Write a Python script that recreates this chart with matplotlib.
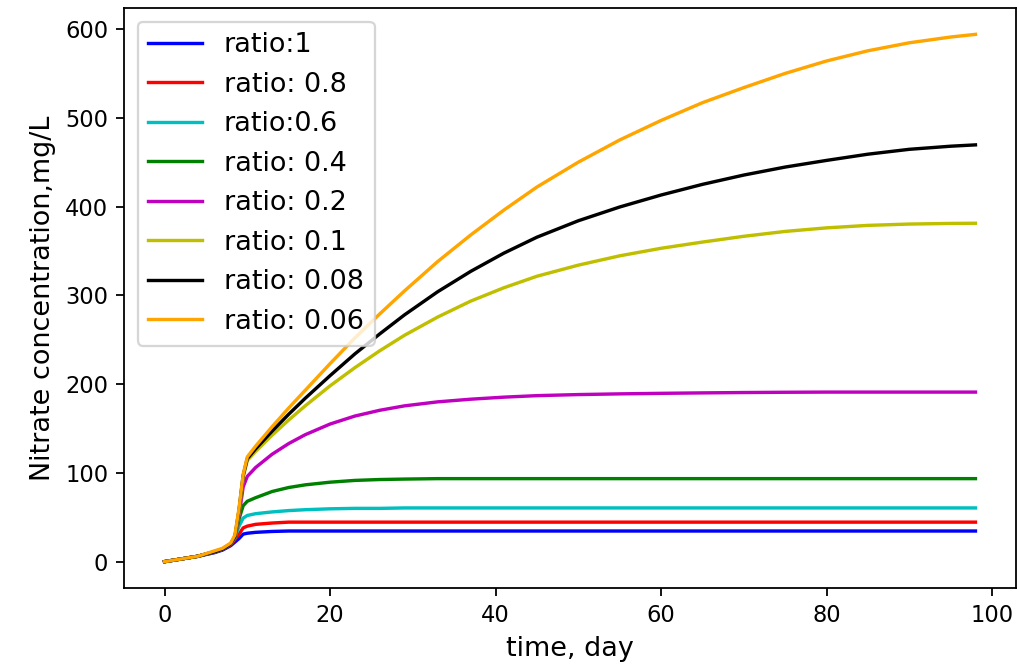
import numpy as np
import matplotlib
matplotlib.use('Agg')
import matplotlib.pyplot as plt

# sampling days
t = [0, 2, 4, 6, 7, 8, 8.5, 9, 9.5, 10, 11, 13, 15, 17, 20, 23, 26, 29, 33,
     37, 41, 45, 50, 55, 60, 65, 70, 75, 80, 85, 90, 95, 98]

# nitrate concentration (mg/L) for each ratio
n_1 = [0, 3, 6, 10, 13, 18, 22, 26, 31, 32, 33, 34, 34.5, 34.5, 34.5, 34.5,
       34.5, 34.5, 34.5, 34.5, 34.5, 34.5, 34.5, 34.5, 34.5, 34.5, 34.5, 34.5,
       34.5, 34.5, 34.5, 34.5, 34.5]
n_08 = [0, 3, 6, 11, 14, 19, 25, 31, 38, 40, 42, 43.5, 44.5, 44.5, 44.5, 44.5,
        44.5, 44.5, 44.5, 44.5, 44.5, 44.5, 44.5, 44.5, 44.5, 44.5, 44.5, 44.5,
        44.5, 44.5, 44.5, 44.5, 44.5]
n_06 = [0, 3, 6, 11, 14, 20, 27, 40, 49, 52, 54, 56, 57.5, 58.5, 59.5, 60,
        60, 60.5, 60.5, 60.5, 60.5, 60.5, 60.5, 60.5, 60.5, 60.5, 60.5, 60.5,
        60.5, 60.5, 60.5, 60.5, 60.5]
n_04 = [0, 3, 6, 11, 14, 20, 27, 48, 63, 68, 72, 79, 83.5, 86.5, 89.5, 91.5,
        92.5, 93, 93.5, 93.5, 93.5, 93.5, 93.5, 93.5, 93.5, 93.5, 93.5, 93.5,
        93.5, 93.5, 93.5, 93.5, 93.5]
n_02 = [0, 3, 6, 11, 14, 20, 27, 52, 84, 96, 106, 121, 133, 143, 155, 164,
        170.5, 175.5, 180, 183, 185.3, 187, 188.2, 189, 189.6, 190.1, 190.5,
        190.8, 191, 191, 191, 191, 191]
n_01 = [0, 3, 6, 11, 14, 20, 27, 55, 95, 114, 124, 142.5, 159.5, 175.5, 198,
        218.5, 237.5, 255, 275.5, 293.5, 308.5, 321.5, 334, 344.5, 353, 360,
        366.5, 372, 376, 378.8, 380.3, 381, 381.2]
n_008 = [0, 3, 6, 11, 14, 20, 28, 58, 97, 116, 127, 147, 166, 184, 209.5, 234,
         256.5, 278, 304, 327, 347.5, 365.5, 384, 399.5, 413, 425, 435.5, 444.5,
         452, 459, 464.5, 468, 469.5]
n_006 = [0, 3, 6, 12, 15, 21, 30, 60, 98, 118, 130, 152, 173, 193, 223, 252,
         279, 305, 338, 368, 396, 422, 450, 475, 497, 517, 534, 550, 564,
         575.5, 584.5, 591, 594]

series = [n_1, n_08, n_06, n_04, n_02, n_01, n_008, n_006]
labels = ['ratio:1', 'ratio: 0.8', 'ratio:0.6', 'ratio: 0.4', 'ratio: 0.2',
          'ratio: 0.1', 'ratio: 0.08', 'ratio: 0.06']
colors = ['b', 'r', 'c', 'g', 'm', 'y', 'k', 'orange']

dpi = 162
fig = plt.figure(figsize=(1019/dpi, 671/dpi), dpi=dpi)
fig.subplots_adjust(left=124/1019, right=1016/1019, bottom=83/671, top=663/671)
ax = fig.add_subplot(111)

for y, lab, col in zip(series, labels, colors):
    ax.plot(t, y, color=col, label=lab)

ax.set_xlabel('time, day', fontsize=12)
ax.set_ylabel('Nitrate concentration,mg/L', fontsize=12)
ax.legend(loc='upper left', fontsize=12)

fig.savefig('out.png', dpi=dpi)
